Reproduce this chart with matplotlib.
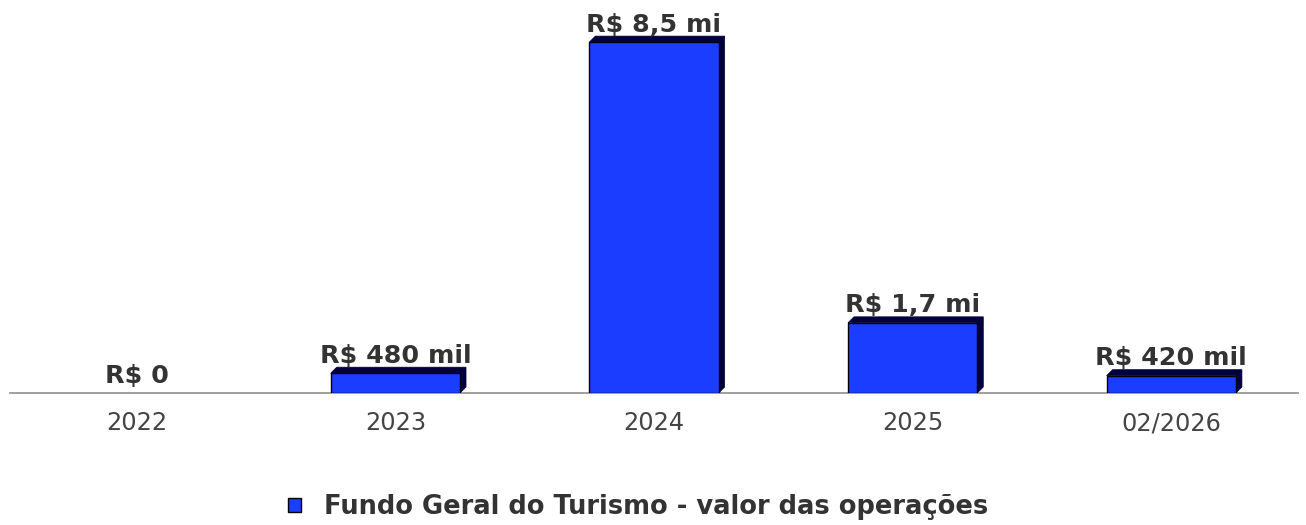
import matplotlib
matplotlib.use("Agg")
import matplotlib.pyplot as plt
import matplotlib.patches as mpatches
import numpy as np

plt.rcParams["font.family"] = "DejaVu Sans"

categories = ["2022", "2023", "2024", "2025", "02/2026"]
values_mi = [0.0, 0.48, 8.5, 1.7, 0.42]
labels = ["R$ 0", "R$ 480 mil", "R$ 8,5 mi", "R$ 1,7 mi", "R$ 420 mil"]
series_name = "Fundo Geral do Turismo - valor das operações"

BLUE = "#1a3dff"
SHADOW = "#00003c"
TEXT = "#333333"
W = 0.5

fig = plt.figure(figsize=(13.06, 5.25), dpi=100)
fig.patch.set_facecolor("white")
ax = fig.add_axes([10 / 1306, 132 / 525, 1288 / 1306, 393 / 525])
ax.set_facecolor("white")

x = np.arange(len(categories))
ax.set_xlim(-0.49, len(categories) - 0.51)
ax.set_ylim(0, 9.52)

# ── extruded "3D" side behind each bar (depth = 6 px) ─────────────────────
inv = ax.transData.inverted()
p0, p1 = inv.transform([(0, 0), (6, 6)])
dx, dy = p1 - p0
nz = [i for i, v in enumerate(values_mi) if v > 0]
for i in nz:
    xi, v = x[i], values_mi[i]
    x0, x1 = xi - W / 2, xi + W / 2
    side = mpatches.Polygon([(x0, v), (x0 + dx, v + dy), (x1 + dx, v + dy),
                             (x1 + dx, dy), (x1, 0), (x1, v)],
                            closed=True, facecolor=SHADOW, edgecolor=SHADOW,
                            linewidth=0.5, zorder=2, clip_on=False)
    ax.add_patch(side)

ax.bar(x[nz], [values_mi[i] for i in nz], width=W, color=BLUE,
       edgecolor="#000000", linewidth=1, zorder=3)

for i, (v, lab) in enumerate(zip(values_mi, labels)):
    ax.annotate(lab, (x[i], v), xytext=(0, 7.5), textcoords="offset points",
                ha="center", va="baseline", fontsize=18.3, fontweight="bold",
                color=TEXT, zorder=5, annotation_clip=False)

ax.set_xticks(x)
ax.set_xticklabels(categories, fontsize=17.3, color="#444444")
ax.tick_params(axis="x", length=0, pad=13)
ax.set_yticks([])
ax.spines[["top", "right", "left"]].set_visible(False)
ax.spines["bottom"].set_color("#999999")
ax.spines["bottom"].set_linewidth(1.3)

handle = mpatches.Patch(facecolor=BLUE, edgecolor="#000000", linewidth=1)
fig.legend([handle], [series_name], loc="center", bbox_to_anchor=(638 / 1306, 18 / 525),
           frameon=False, handlelength=0.5, handleheight=0.5, handletextpad=0.9,
           prop={"size": 18.5, "weight": "bold"}, labelcolor=TEXT)

plt.savefig("out.png", dpi=100, facecolor=fig.get_facecolor())
